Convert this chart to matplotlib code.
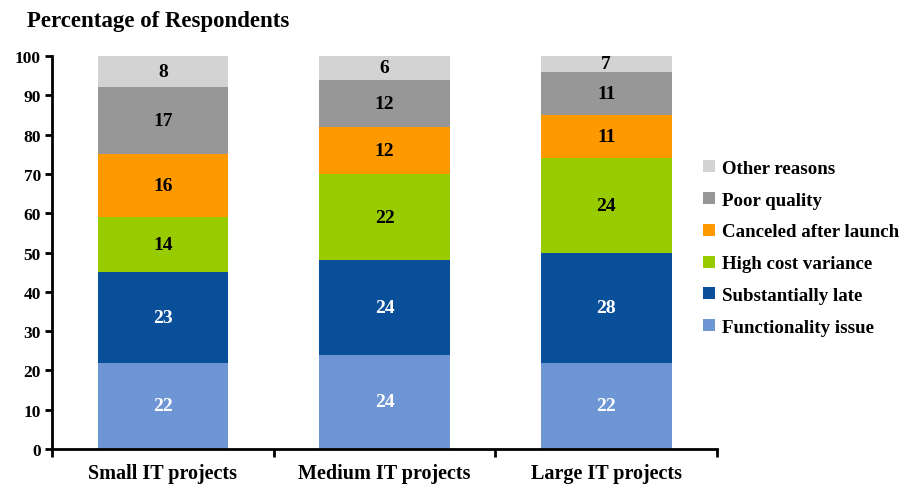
import matplotlib.pyplot as plt
import numpy as np

plt.rcParams['font.family'] = ['Liberation Serif', 'DejaVu Serif']
plt.rcParams['font.weight'] = 'bold'

# categories and series (bottom to top)
categories = ['Small IT projects', 'Medium IT projects', 'Large IT projects']
series = ['Functionality issue', 'Substantially late', 'High cost variance',
          'Canceled after launch', 'Poor quality', 'Other reasons']
functionality = [22, 24, 22]
late = [23, 24, 28]
cost = [14, 22, 24]
canceled = [16, 12, 11]
quality = [17, 12, 11]
other = [8, 6, 7]

colors = ['#6f96d4', '#0a4f99', '#99cc00', '#ff9900', '#979797', '#d3d3d3']
text_colors = ['white', 'white', 'black', 'black', 'black', 'black']

fig = plt.figure(figsize=(9.14, 4.85), dpi=100)
ax = fig.add_axes([0.057, 0.072, 0.7275, 0.8105])

X = np.arange(len(categories))
bottom = np.zeros(len(categories))
handles = []
for name, vals, c, tc in zip(series, [functionality, late, cost, canceled, quality, other],
                             colors, text_colors):
    vals = np.array(vals, dtype=float)
    h = ax.bar(X, vals, 0.59, bottom=bottom, color=c, label=name)
    handles.append(h)
    for x, b, v in zip(X, bottom, vals):
        # centre the label in the visible (clipped at 100) part
        top = min(b + v, 100)
        ax.text(x, (b + top) / 2, '%d' % v, ha='center', va='center',
                color=tc, fontsize=14, fontweight='bold')
    bottom += vals

ax.set_ylim(0, 100)
ax.set_xlim(-0.5, 2.5)
ax.set_yticks(np.arange(0, 101, 10))
ax.tick_params(axis='y', labelsize=12.5, width=2, length=5, direction='out', pad=3)
ax.set_xticks(X)
ax.set_xticklabels(categories, fontsize=14.5, fontweight='bold')
ax.tick_params(axis='x', length=0, pad=10)
ax.set_xticks([-0.5, 0.5, 1.5, 2.5], minor=True)
ax.tick_params(axis='x', which='minor', length=6, width=2, direction='out')
for lab in ax.get_yticklabels():
    lab.set_fontweight('bold')

ax.spines['top'].set_visible(False)
ax.spines['right'].set_visible(False)
ax.spines['left'].set_linewidth(2)
ax.spines['bottom'].set_linewidth(2)

fig.text(0.03, 0.955, 'Percentage of Respondents', fontsize=16.5, fontweight='bold',
         ha='left', va='center')

fig.legend(handles[::-1], series[::-1], loc='center left', bbox_to_anchor=(0.755, 0.487),
           frameon=False, handlelength=0.6, handleheight=0.6,
           handletextpad=0.4, labelspacing=0.78, borderpad=0.2,
           prop={'weight': 'bold', 'size': 13.6})

fig.savefig('out.png', dpi=100)
